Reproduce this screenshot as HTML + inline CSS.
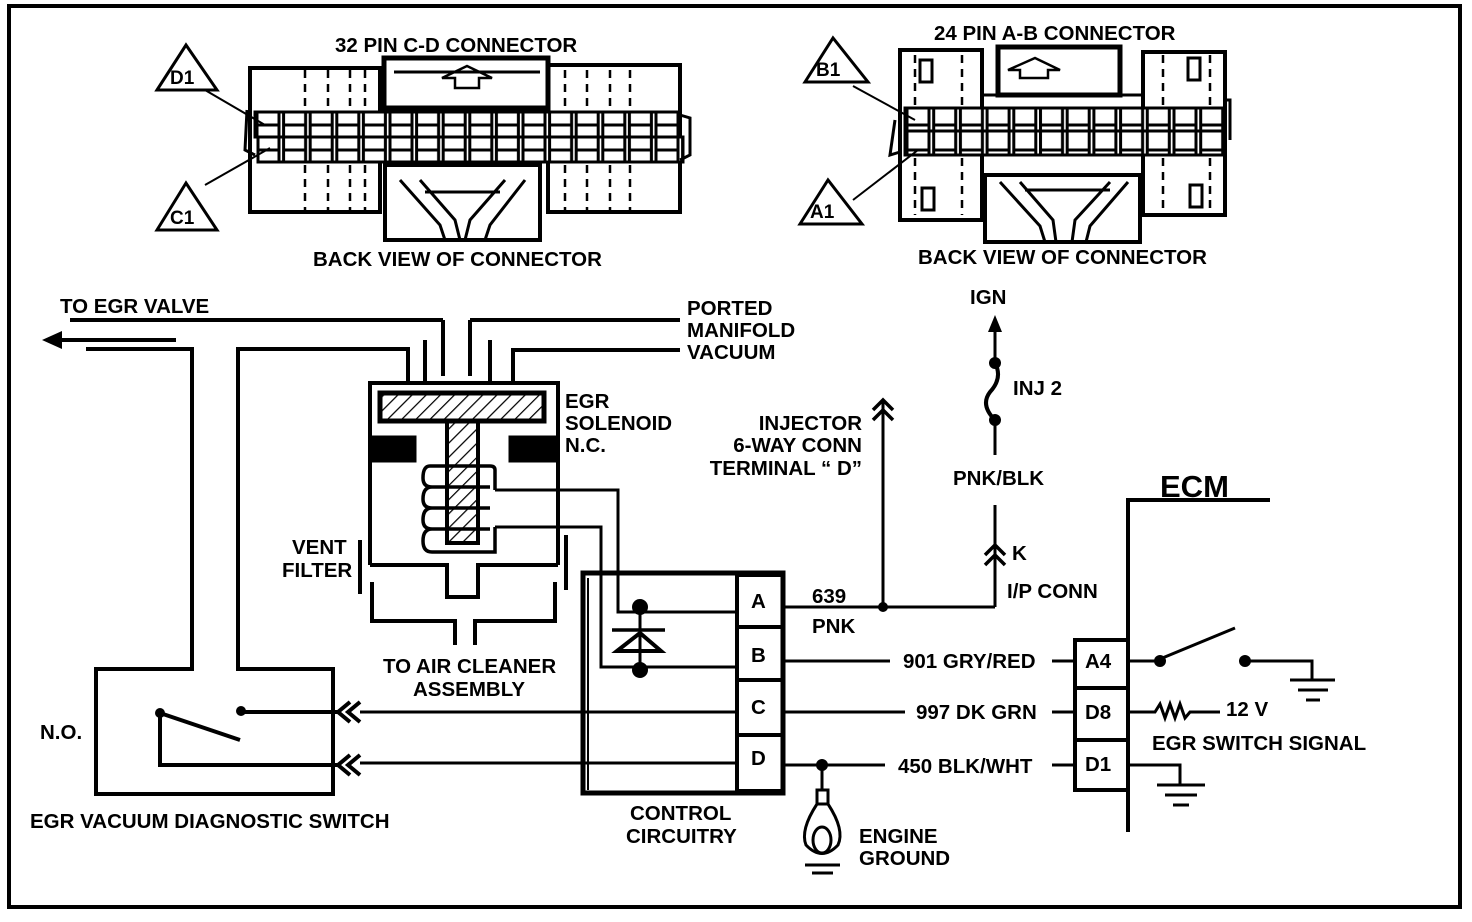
<!DOCTYPE html>
<html><head><meta charset="utf-8"><style>
html,body{margin:0;padding:0;background:#fff;}
svg{display:block}
text{font-family:"Liberation Sans",sans-serif;font-weight:bold;font-size:20.5px;fill:#000}
</style></head><body>
<svg width="1472" height="922" viewBox="0 0 1472 922" xmlns="http://www.w3.org/2000/svg">
<defs>
<pattern id="p1" x="255" y="0" width="26.6" height="25" patternUnits="userSpaceOnUse">
<rect x="2" y="0" width="22" height="25" fill="none" stroke="#000" stroke-width="3"/></pattern>
<pattern id="p2" x="905" y="0" width="26.7" height="25" patternUnits="userSpaceOnUse">
<rect x="2" y="0" width="22" height="25" fill="none" stroke="#000" stroke-width="3"/></pattern>
<pattern id="hatch" width="10" height="10" patternUnits="userSpaceOnUse" patternTransform="rotate(45)">
<line x1="0" y1="0" x2="0" y2="10" stroke="#000" stroke-width="2.5"/></pattern>
</defs>
<g fill="none" stroke="#000" stroke-width="3">
<rect x="9" y="6" width="1451" height="901" stroke-width="4"/>

<rect x="250" y="68" width="130" height="144" stroke-width="4"/>
<rect x="548" y="65" width="132" height="147" stroke-width="4"/>
<rect x="384" y="58" width="164" height="50" stroke-width="5"/>
<line x1="394" y1="72" x2="540" y2="72" />
<rect x="385" y="165" width="155" height="75" fill="#fff" stroke-width="4"/>
<path d="M400 180 L440 225 L445 240 M420 180 L455 220 L460 240 M505 180 L470 220 L465 240 M525 180 L490 225 L485 240 M425 192 L500 192"/>
<rect x="255" y="112" width="425" height="25" fill="#fff"/>
<rect x="258" y="137" width="425" height="25" fill="#fff"/>
<rect x="256" y="113" width="424" height="24" fill="url(#p1)" stroke="none"/>
<rect x="259" y="138" width="424" height="24" fill="url(#p1)" stroke="none"/>
<g stroke-dasharray="8,6" stroke-width="2.5">
<line x1="305" y1="70" x2="305" y2="112"/><line x1="328" y1="70" x2="328" y2="112"/><line x1="350" y1="70" x2="350" y2="112"/><line x1="365" y1="70" x2="365" y2="112"/>
<line x1="305" y1="165" x2="305" y2="210"/><line x1="328" y1="165" x2="328" y2="210"/><line x1="350" y1="165" x2="350" y2="210"/><line x1="365" y1="165" x2="365" y2="210"/>
<line x1="565" y1="70" x2="565" y2="112"/><line x1="587" y1="70" x2="587" y2="112"/><line x1="610" y1="70" x2="610" y2="112"/><line x1="630" y1="70" x2="630" y2="112"/>
<line x1="565" y1="165" x2="565" y2="210"/><line x1="587" y1="165" x2="587" y2="210"/><line x1="610" y1="165" x2="610" y2="210"/><line x1="630" y1="165" x2="630" y2="210"/>
</g>
<path d="M455 88 L455 78 L442 78 L467 66 L492 78 L479 78 L479 88 Z" stroke-width="2.5"/>
<path d="M247 110 L245 150 L255 155 M680 115 L690 118 L690 155 L680 160" />
<path d="M157 90 L186 45 L217 90 Z" stroke-width="3"/>
<path d="M157 230 L186 183 L217 230 Z" stroke-width="3"/>
<line x1="205" y1="90" x2="265" y2="125" stroke-width="2"/>
<line x1="205" y1="185" x2="270" y2="148" stroke-width="2"/>

<rect x="900" y="50" width="82" height="170" stroke-width="4"/>
<rect x="1143" y="52" width="82" height="163" stroke-width="4"/>
<rect x="998" y="47" width="122" height="48" stroke-width="5"/>
<rect x="985" y="175" width="155" height="67" fill="#fff" stroke-width="4"/>
<path d="M1000 182 L1040 226 L1045 242 M1020 182 L1053 220 L1056 242 M1110 182 L1075 220 L1072 242 M1128 182 L1090 226 L1086 242 M1025 190 L1110 190"/>
<rect x="982" y="95" width="161" height="80" />
<rect x="905" y="108" width="320" height="23" fill="#fff"/>
<rect x="905" y="131" width="320" height="24" fill="#fff"/>
<rect x="906" y="108" width="318" height="23" fill="url(#p2)" stroke="none"/>
<rect x="906" y="132" width="318" height="23" fill="url(#p2)" stroke="none"/>
<rect x="920" y="60" width="12" height="22" stroke-width="3"/>
<rect x="922" y="188" width="12" height="22" stroke-width="3"/>
<rect x="1188" y="58" width="12" height="22" stroke-width="3"/>
<rect x="1190" y="185" width="12" height="22" stroke-width="3"/>
<g stroke-dasharray="8,6" stroke-width="2.5">
<line x1="915" y1="55" x2="915" y2="108"/><line x1="962" y1="55" x2="962" y2="108"/>
<line x1="915" y1="158" x2="915" y2="215"/><line x1="962" y1="158" x2="962" y2="215"/>
<line x1="1163" y1="55" x2="1163" y2="108"/><line x1="1210" y1="55" x2="1210" y2="108"/>
<line x1="1163" y1="158" x2="1163" y2="215"/><line x1="1210" y1="158" x2="1210" y2="215"/>
</g>
<path d="M1020 78 L1020 70 L1008 70 L1035 58 L1060 70 L1048 70 L1048 78 Z" stroke-width="2.5"/>
<path d="M895 120 L890 155 L900 152 M1225 100 L1230 100 L1230 140" />
<path d="M805 82 L833 38 L868 82 Z" stroke-width="3"/>
<path d="M800 224 L828 180 L862 224 Z" stroke-width="3"/>
<line x1="853" y1="86" x2="915" y2="120" stroke-width="2"/>
<line x1="853" y1="200" x2="918" y2="150" stroke-width="2"/>

<line x1="70" y1="320" x2="443" y2="320" stroke-width="4"/>
<line x1="443" y1="320" x2="443" y2="376" stroke-width="4"/>
<line x1="470" y1="376" x2="470" y2="320" stroke-width="4"/>
<line x1="470" y1="320" x2="680" y2="320" stroke-width="4"/>
<line x1="58" y1="340" x2="176" y2="340" stroke-width="4"/>
<path d="M42 340 L62 331 L62 349 Z" fill="#000" stroke="none"/>
<polyline points="86,349 192,349 192,669 96,669 96,794 333,794 333,669 238,669 238,349 408,349 408,383" stroke-width="4"/>
<polyline points="513,383 513,350 680,350" stroke-width="4"/>
<line x1="425" y1="340" x2="425" y2="383" stroke-width="4"/>
<line x1="490" y1="340" x2="490" y2="383" stroke-width="4"/>

<polyline points="370,565 370,383 558,383 558,565" stroke-width="4"/>
<polyline points="370,565 447,565 447,597 478,597 478,565 558,565" stroke-width="4"/>
<rect x="380" y="393" width="164" height="28" fill="url(#hatch)" stroke-width="5"/>
<rect x="447" y="421" width="31" height="122" fill="url(#hatch)" stroke-width="4"/>
<rect x="370" y="437" width="45" height="24" fill="#000"/>
<rect x="510" y="437" width="46" height="24" fill="#000"/>
<path d="M495 490 L495 470 Q495 466 490 466 L430 466 Q423 466 423 478 Q423 487 432 487 L490 487 M432 487 Q423 487 423 499 Q423 508 432 508 L490 508 M432 508 Q423 508 423 520 Q423 529 432 529 L490 529 M432 529 Q423 529 423 541 Q423 552 432 552 L495 552 L495 527" stroke-width="3.5"/>
<polyline points="495,490 618,490 618,612 737,612"/>
<polyline points="495,527 601,527 601,667 737,667"/>
<line x1="360" y1="540" x2="360" y2="594" stroke-width="4"/>
<line x1="566" y1="535" x2="566" y2="590" stroke-width="4"/>
<polyline points="372,582 372,621 455,621 455,645" stroke-width="4"/>
<polyline points="555,582 555,621 475,621 475,645" stroke-width="4"/>

<rect x="583" y="573" width="200" height="220" stroke-width="5"/>
<line x1="588" y1="578" x2="588" y2="790" stroke-width="2"/>
<rect x="737" y="575" width="46" height="216" stroke-width="4"/>
<line x1="737" y1="627" x2="783" y2="627" stroke-width="4"/>
<line x1="737" y1="680" x2="783" y2="680" stroke-width="4"/>
<line x1="737" y1="735" x2="783" y2="735" stroke-width="4"/>
<line x1="612" y1="630" x2="665" y2="630" stroke-width="3.5"/>
<path d="M617 651 L640 633 L661 651 Z" stroke-width="4"/>
<line x1="640" y1="612" x2="640" y2="670"/>
<line x1="360" y1="712" x2="737" y2="712"/>
<line x1="360" y1="763" x2="737" y2="763"/>
<line x1="240" y1="712" x2="338" y2="712" stroke-width="4"/>
<polyline points="160,713 160,765 338,765" stroke-width="4"/>
<line x1="160" y1="713" x2="240" y2="740" stroke-width="4"/>
<path d="M350 702 L338 712 L350 722 M360 702 L348 712 L360 722" stroke-width="4"/>
<path d="M350 755 L338 765 L350 775 M360 755 L348 765 L360 775" stroke-width="4"/>

<line x1="783" y1="607" x2="995" y2="607"/>
<line x1="883" y1="607" x2="883" y2="400"/>
<path d="M873 410 L883 400 L893 410 M873 420 L883 410 L893 420" stroke-width="3.5"/>
<line x1="995" y1="607" x2="995" y2="545"/>
<path d="M985 555 L995 545 L1005 555 M985 565 L995 555 L1005 565" stroke-width="3.5"/>
<line x1="995" y1="505" x2="995" y2="545"/>
<line x1="995" y1="420" x2="995" y2="455"/>
<path d="M995 420 Q980 405 990 392 Q1003 378 995 363" stroke-width="4"/>
<line x1="995" y1="363" x2="995" y2="320"/>
<line x1="783" y1="661" x2="890" y2="661"/>
<line x1="1052" y1="661" x2="1075" y2="661"/>
<line x1="783" y1="712" x2="905" y2="712"/>
<line x1="1052" y1="712" x2="1075" y2="712"/>
<line x1="783" y1="765" x2="885" y2="765"/>
<line x1="1052" y1="765" x2="1075" y2="765"/>
<line x1="822" y1="765" x2="822" y2="790"/>
<rect x="817" y="790" width="11" height="14" stroke-width="3"/>
<path d="M817 804 Q800 830 806 845 Q822 862 838 845 Q845 830 828 804" stroke-width="3"/>
<ellipse cx="822" cy="840" rx="9" ry="13" stroke-width="3"/>
<line x1="805" y1="865" x2="840" y2="865"/>
<line x1="812" y1="873" x2="833" y2="873"/>

<polyline points="1270,500 1128,500 1128,832" stroke-width="4"/>
<rect x="1075" y="640" width="53" height="150" stroke-width="4"/>
<line x1="1075" y1="688" x2="1128" y2="688" stroke-width="4"/>
<line x1="1075" y1="740" x2="1128" y2="740" stroke-width="4"/>
<line x1="1128" y1="661" x2="1158" y2="661"/>
<line x1="1160" y1="659" x2="1235" y2="628"/>
<polyline points="1245,661 1312,661 1312,680"/>
<line x1="1290" y1="680" x2="1335" y2="680"/>
<line x1="1298" y1="690" x2="1328" y2="690"/>
<line x1="1306" y1="700" x2="1320" y2="700"/>
<polyline points="1128,712 1155,712 1160,704 1165,718 1170,704 1175,718 1180,704 1185,718 1190,712 1220,712"/>
<polyline points="1128,765 1180,765 1180,785"/>
<line x1="1157" y1="785" x2="1205" y2="785"/>
<line x1="1165" y1="795" x2="1197" y2="795"/>
<line x1="1173" y1="805" x2="1189" y2="805"/>
</g>
<g fill="#000">
<circle cx="241" cy="711" r="5"/><circle cx="160" cy="713" r="5"/>
<circle cx="640" cy="607" r="8"/><circle cx="640" cy="670" r="8"/>
<circle cx="883" cy="607" r="5"/><circle cx="995" cy="363" r="6"/><circle cx="995" cy="420" r="6"/>
<circle cx="822" cy="765" r="6"/>
<circle cx="1160" cy="661" r="6"/><circle cx="1245" cy="661" r="6"/>
<path d="M995 315 L988 332 L1002 332 Z"/>
</g>
<text x="335" y="52">32 PIN C-D  CONNECTOR</text>
<text x="934" y="40">24 PIN A-B  CONNECTOR</text>
<text x="313" y="266">BACK VIEW OF CONNECTOR</text>
<text x="918" y="264">BACK VIEW OF CONNECTOR</text>
<text x="170" y="84" style="font-size:19px">D1</text>
<text x="170" y="224" style="font-size:19px">C1</text>
<text x="816" y="76" style="font-size:19px">B1</text>
<text x="810" y="218" style="font-size:19px">A1</text>
<text x="60" y="313">TO EGR VALVE</text>
<text x="687" y="315">PORTED</text>
<text x="687" y="337">MANIFOLD</text>
<text x="687" y="359">VACUUM</text>
<text x="565" y="408">EGR</text>
<text x="565" y="430">SOLENOID</text>
<text x="565" y="452">N.C.</text>
<text x="862" y="430" text-anchor="end">INJECTOR</text>
<text x="862" y="452" text-anchor="end">6-WAY CONN</text>
<text x="862" y="475" text-anchor="end">TERMINAL “ D”</text>
<text x="970" y="304">IGN</text>
<text x="1013" y="395">INJ 2</text>
<text x="953" y="485">PNK/BLK</text>
<text x="1012" y="560">K</text>
<text x="1007" y="598">I/P CONN</text>
<text x="1160" y="497" style="font-size:31px">ECM</text>
<text x="292" y="554">VENT</text>
<text x="282" y="577">FILTER</text>
<text x="383" y="673">TO AIR CLEANER</text>
<text x="413" y="696">ASSEMBLY</text>
<text x="40" y="739">N.O.</text>
<text x="30" y="828">EGR VACUUM DIAGNOSTIC SWITCH</text>
<text x="630" y="820">CONTROL</text>
<text x="626" y="843">CIRCUITRY</text>
<text x="859" y="843">ENGINE</text>
<text x="859" y="865">GROUND</text>
<text x="751" y="608">A</text>
<text x="751" y="662">B</text>
<text x="751" y="714">C</text>
<text x="751" y="765">D</text>
<text x="812" y="603">639</text>
<text x="812" y="633">PNK</text>
<text x="903" y="668">901 GRY/RED</text>
<text x="916" y="719">997 DK GRN</text>
<text x="898" y="773">450 BLK/WHT</text>
<text x="1085" y="668">A4</text>
<text x="1085" y="719">D8</text>
<text x="1085" y="771">D1</text>
<text x="1226" y="716">12 V</text>
<text x="1152" y="750">EGR SWITCH SIGNAL</text>
</svg>
</body></html>
